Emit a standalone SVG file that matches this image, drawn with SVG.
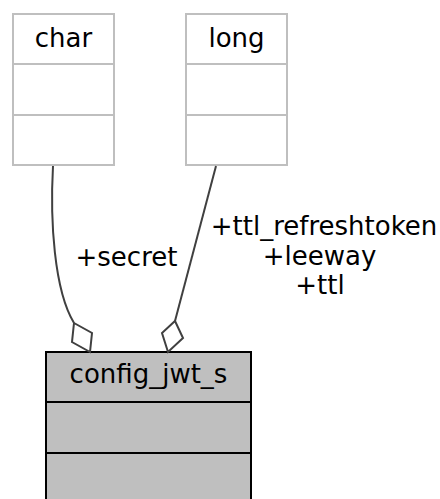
<svg xmlns="http://www.w3.org/2000/svg" width="440" height="499" viewBox="0 0 440 499">
<style>
text{font-family:"DejaVu Sans",sans-serif;font-size:26px;fill:#000;text-anchor:middle}
.ext{fill:#fff;stroke:#bfbfbf;stroke-width:2}
.main{fill:#bfbfbf;stroke:#000;stroke-width:2}
.edge{fill:none;stroke:#404040;stroke-width:2}
.dia{fill:#fff;stroke:#404040;stroke-width:2}
</style>
<rect width="440" height="499" fill="#fff"/>
<g id="node-char">
<rect class="ext" x="13" y="14" width="101" height="151"/>
<line class="ext" x1="13" y1="64" x2="114" y2="64"/>
<line class="ext" x1="13" y1="115" x2="114" y2="115"/>
<text x="63.5" y="47">char</text>
</g>
<g id="node-long">
<rect class="ext" x="186" y="14" width="101" height="151"/>
<line class="ext" x1="186" y1="64" x2="287" y2="64"/>
<line class="ext" x1="186" y1="115" x2="287" y2="115"/>
<text x="236.5" y="47">long</text>
</g>
<g id="node-config_jwt_s">
<rect class="main" x="46" y="352" width="205" height="152"/>
<line class="main" x1="46" y1="402" x2="251" y2="402"/>
<line class="main" x1="46" y1="453" x2="251" y2="453"/>
<text x="148.5" y="383">config_jwt_s</text>
</g>
<g id="connectors">
<path class="edge" d="M53,166 C50,220 54,290 74,323"/>
<polygon class="dia" points="74,323 92,333 90,352 72,342"/>
<text x="126.5" y="266">+secret</text>
<path class="edge" d="M216,166 L175,321"/>
<polygon class="dia" points="175,321 183,338 168,352 162,333"/>
<text x="324" y="235">+ttl_refreshtoken</text>
<text x="319.5" y="265">+leeway</text>
<text x="320" y="294">+ttl</text>
</g>
</svg>
